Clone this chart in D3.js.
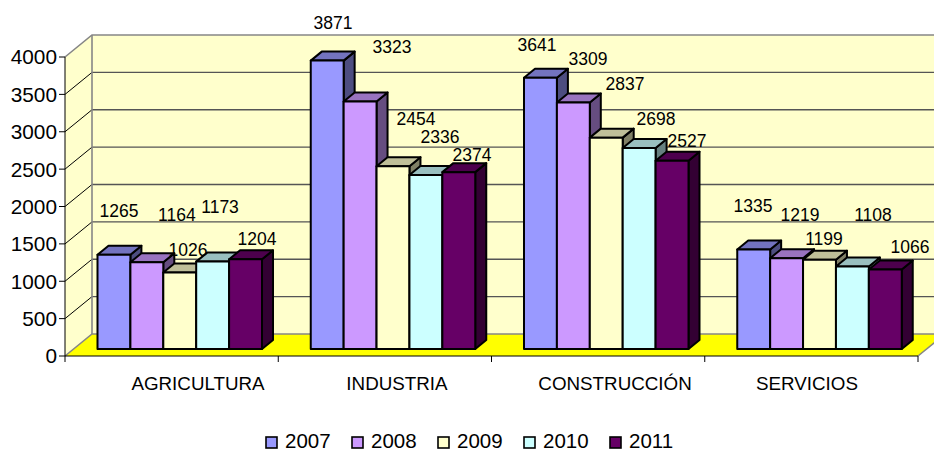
<!DOCTYPE html>
<html>
<head>
<meta charset="utf-8">
<script src="https://cdn.jsdelivr.net/npm/d3@7"></script>
<style>
html,body{margin:0;padding:0;background:#fff}
svg{display:block}
text{font-family:"Liberation Sans",Arial,sans-serif;fill:#000}
</style>
</head>
<body>
<svg id="c" width="934" height="451"></svg>
<script>
const categories = ["AGRICULTURA","INDUSTRIA","CONSTRUCCIÓN","SERVICIOS"];
const years = ["2007","2008","2009","2010","2011"];
const v2007 = [1265,3871,3641,1335];
const v2008 = [1164,3323,3309,1219];
const v2009 = [1026,2454,2837,1199];
const v2010 = [1173,2336,2698,1108];
const v2011 = [1204,2374,2527,1066];
const yTicks = [0,500,1000,1500,2000,2500,3000,3500,4000];
const seriesValues = [v2007,v2008,v2009,v2010,v2011];

// layout / style
const colors = ["#9999FF","#CC99FF","#FFFFCC","#CCFFFF","#660066"];
const catLabelDx = [26.4,12.1,16.9,-4.4];
const labelDx = [[5,30,8.3,7.4,11.5],[5.8,31.9,23,14.1,13.2],[-3.5,14.7,18.8,16.9,15],[-0.7,13.4,4.5,20.6,24.7]];
const labelDy = [[-43.8,-47.3,-22.6,-54.6,-20.3],[-37.6,-54.4,-47.2,-38,-17.1],[-32.7,-43.5,-53.6,-29,-19.7],[-43.5,-43.2,-20.7,-51.5,-22.6]];
const depth = {x:27,y:-22}, barDepth = {x:11,y:-9};
const left=65,right=918,top0=57,bottom=356,base=349;

const svg = d3.select("#c");
const y = d3.scaleLinear().domain([0,4000]).range([bottom,top0]);
const yBar = d3.scaleLinear().domain([0,4000]).range([base,51]);
const x0 = d3.scaleBand().domain(categories).range([left,right]);
const x1 = d3.scaleBand().domain(years).range([32.5,197]);
const pts = a => a.map(p=>p.join(",")).join(" ");

// walls
svg.append("polygon").attr("fill","#FFFFCC")
  .attr("points",pts([[left+depth.x,y(4000)+depth.y],[right+depth.x,y(4000)+depth.y],[right+depth.x,bottom+depth.y],[left+depth.x,bottom+depth.y]]));
svg.append("polygon").attr("fill","#FFFFCC")
  .attr("points",pts([[left,y(4000)],[left+depth.x,y(4000)+depth.y],[left+depth.x,bottom+depth.y],[left,bottom]]));
svg.append("polygon").attr("fill","#FFFF00")
  .attr("points",pts([[left,bottom],[right,bottom],[right+depth.x,bottom+depth.y],[left+depth.x,bottom+depth.y]]));

// gridlines
yTicks.filter(t=>t>0&&t<4000).forEach(t=>{
  svg.append("line").attr("x1",left).attr("y1",y(t)).attr("x2",left+depth.x).attr("y2",y(t)+depth.y)
    .attr("stroke","#000").attr("stroke-width",1);
  svg.append("line").attr("x1",left+depth.x).attr("y1",y(t)+depth.y).attr("x2",right+depth.x).attr("y2",y(t)+depth.y)
    .attr("stroke","#555").attr("stroke-width",1.3);
});
// wall frame
const grey = "#868686";
svg.append("polyline").attr("fill","none").attr("stroke",grey).attr("stroke-width",1.6)
  .attr("points",pts([[left,y(4000)],[left+depth.x,y(4000)+depth.y],[right+depth.x,y(4000)+depth.y]]));
svg.append("line").attr("x1",left+depth.x).attr("y1",y(4000)+depth.y).attr("x2",left+depth.x).attr("y2",bottom+depth.y).attr("stroke",grey).attr("stroke-width",1.6);
svg.append("polyline").attr("fill","none").attr("stroke",grey).attr("stroke-width",1.6)
  .attr("points",pts([[left,bottom],[left+depth.x,bottom+depth.y],[right+depth.x,bottom+depth.y]]));
svg.append("line").attr("x1",right).attr("y1",bottom).attr("x2",right+depth.x).attr("y2",bottom+depth.y).attr("stroke",grey).attr("stroke-width",1.6);

// bars
const bw = x1.bandwidth();
const dk = (c,k)=>{const r=d3.rgb(c);return d3.rgb(r.r*k,r.g*k,r.b*k).formatHex();};
categories.forEach((cat,ci)=>{
  years.forEach((yr,si)=>{
    const v = seriesValues[si][ci];
    const xa = x0(cat)+x1(yr), xb = xa+bw, yt = yBar(v);
    const g = svg.append("g").attr("stroke","#000").attr("stroke-width",2).attr("stroke-linejoin","round");
    g.append("polygon").attr("fill",dk(colors[si],.5))
      .attr("points",pts([[xb,yt],[xb+barDepth.x,yt+barDepth.y],[xb+barDepth.x,base+barDepth.y],[xb,base]]));
    g.append("polygon").attr("fill",dk(colors[si],.75))
      .attr("points",pts([[xa,yt],[xa+barDepth.x,yt+barDepth.y],[xb+barDepth.x,yt+barDepth.y],[xb,yt]]));
    g.append("rect").attr("x",xa).attr("y",yt).attr("width",bw).attr("height",base-yt).attr("fill",colors[si]);
  });
});

// value labels
categories.forEach((cat,ci)=>{
  years.forEach((yr,si)=>{
    const v = seriesValues[si][ci];
    svg.append("text").attr("x",x0(cat)+x1(yr)+bw/2+labelDx[ci][si]).attr("y",yBar(v)+labelDy[ci][si])
      .attr("dy","0.36em").attr("text-anchor","middle").attr("font-size",17.5).text(v);
  });
});

// axes
const axis = svg.append("g");
axis.append("line").attr("x1",left).attr("y1",y(4000)).attr("x2",left).attr("y2",bottom).attr("stroke","#000").attr("stroke-width",1);
axis.append("line").attr("x1",left).attr("y1",bottom).attr("x2",right).attr("y2",bottom).attr("stroke","#000").attr("stroke-width",1);
yTicks.forEach(t=>{
  axis.append("line").attr("x1",left-6).attr("x2",left).attr("y1",y(t)).attr("y2",y(t)).attr("stroke","#000");
  axis.append("text").attr("x",57).attr("y",y(t)).attr("dy","0.36em").attr("text-anchor","end").attr("font-size",20.8).text(t);
});
[...categories.map(c=>x0(c)),right].forEach(px=>{
  axis.append("line").attr("x1",px).attr("x2",px).attr("y1",bottom).attr("y2",bottom+6).attr("stroke","#000");
});
categories.forEach((c,i)=>{
  axis.append("text").attr("x",x0(c)+x0.bandwidth()/2+catLabelDx[i]).attr("y",390)
    .attr("text-anchor","middle").attr("font-size",18.8).text(c);
});

// legend
const lg = d3.scaleBand().domain(years).range([266,696]);
years.forEach((yr,i)=>{
  svg.append("rect").attr("x",lg(yr)).attr("y",437).attr("width",11).attr("height",11)
    .attr("fill",colors[i]).attr("stroke","#000").attr("stroke-width",1.6);
  svg.append("text").attr("x",lg(yr)+19).attr("y",447.5).attr("font-size",20.5).text(yr);
});
</script>
</body>
</html>
